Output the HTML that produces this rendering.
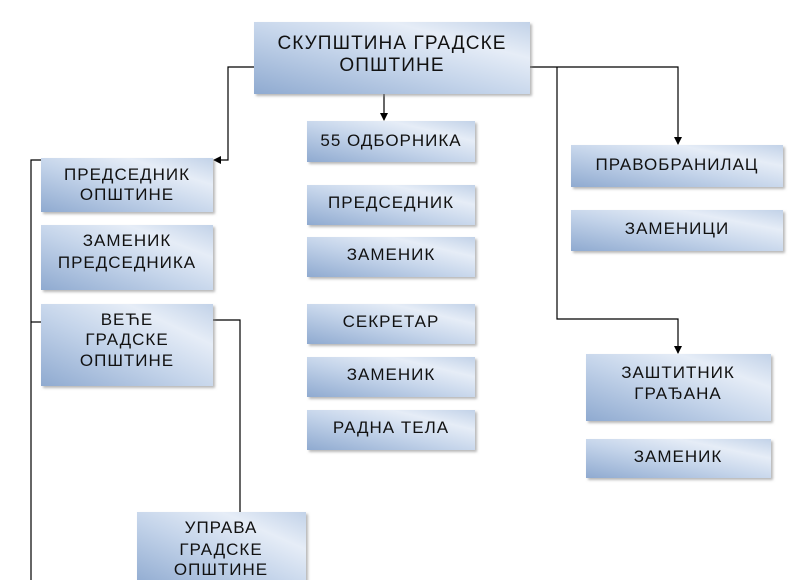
<!DOCTYPE html>
<html><head><meta charset="utf-8"><style>
body{margin:0;background:#fff;width:807px;height:580px;overflow:hidden;}
svg text{font-family:"Liberation Sans",sans-serif;font-size:17px;letter-spacing:1px;fill:#111;text-anchor:middle;}
</style></head><body>
<svg width="807" height="580" viewBox="0 0 807 580" xmlns="http://www.w3.org/2000/svg">
<defs>
<linearGradient id="g" x1="0" y1="1" x2="1" y2="0">
<stop offset="0" stop-color="#8faad0"/>
<stop offset="0.45" stop-color="#c4d4ea"/>
<stop offset="0.75" stop-color="#e6edf7"/>
<stop offset="1" stop-color="#c2d2e8"/>
</linearGradient>
<filter id="s" x="-5%" y="-5%" width="115%" height="125%"><feDropShadow dx="2" dy="2" stdDeviation="1.2" flood-color="#888" flood-opacity="0.6"/></filter>
<marker id="a" markerWidth="8" markerHeight="8" refX="7" refY="4" orient="auto" markerUnits="userSpaceOnUse"><path d="M0,0 L8,4 L0,8z" fill="#000"/></marker>
</defs>
<g stroke="#000" stroke-width="1.2" fill="none">
<polyline points="254,67 228,67 228,160 214,160" marker-end="url(#a)"/>
<line x1="384" y1="94" x2="384" y2="120" marker-end="url(#a)"/>
<polyline points="530,67 678,67 678,144" marker-end="url(#a)"/>
<polyline points="557,67 557,319 678,319 678,353" marker-end="url(#a)"/>
<polyline points="41,160 31,160 31,580"/>
<line x1="31" y1="322" x2="41" y2="322"/>
<polyline points="213,320 240,320 240,512"/>
</g>
<g fill="url(#g)" filter="url(#s)">
<rect x="254" y="22" width="276" height="72"/>
<rect x="307" y="121" width="168" height="41"/>
<rect x="307" y="185" width="168" height="40"/>
<rect x="307" y="237" width="168" height="40"/>
<rect x="307" y="304" width="168" height="40"/>
<rect x="307" y="357" width="168" height="40"/>
<rect x="307" y="410" width="168" height="40"/>
<rect x="41" y="158" width="172" height="54"/>
<rect x="41" y="225" width="172" height="65"/>
<rect x="41" y="304" width="172" height="82"/>
<rect x="137" y="512" width="169" height="75"/>
<rect x="571" y="145" width="212" height="42"/>
<rect x="571" y="210" width="212" height="41"/>
<rect x="586" y="354" width="185" height="67"/>
<rect x="586" y="439" width="185" height="39"/>
</g>
<text x="392" y="49" style="font-size:19px;letter-spacing:1.1px">СКУПШТИНА ГРАДСКЕ</text>
<text x="392" y="71" style="font-size:19px;letter-spacing:1.1px">ОПШТИНЕ</text>
<text x="391" y="146">55 ОДБОРНИКА</text>
<text x="391" y="208">ПРЕДСЕДНИК</text>
<text x="391" y="260">ЗАМЕНИК</text>
<text x="391" y="327">СЕКРЕТАР</text>
<text x="391" y="380">ЗАМЕНИК</text>
<text x="391" y="433">РАДНА ТЕЛА</text>
<text x="127" y="180">ПРЕДСЕДНИК</text>
<text x="127" y="200">ОПШТИНЕ</text>
<text x="127" y="246">ЗАМЕНИК</text>
<text x="127" y="268">ПРЕДСЕДНИКА</text>
<text x="127" y="325">ВЕЋЕ</text>
<text x="127" y="345">ГРАДСКЕ</text>
<text x="127" y="366">ОПШТИНЕ</text>
<text x="221" y="533">УПРАВА</text>
<text x="221" y="555">ГРАДСКЕ</text>
<text x="221" y="575">ОПШТИНЕ</text>
<text x="677" y="170">ПРАВОБРАНИЛАЦ</text>
<text x="677" y="234">ЗАМЕНИЦИ</text>
<text x="678" y="378">ЗАШТИТНИК</text>
<text x="678" y="399">ГРАЂАНА</text>
<text x="678" y="462">ЗАМЕНИК</text>
</svg>
</body></html>
